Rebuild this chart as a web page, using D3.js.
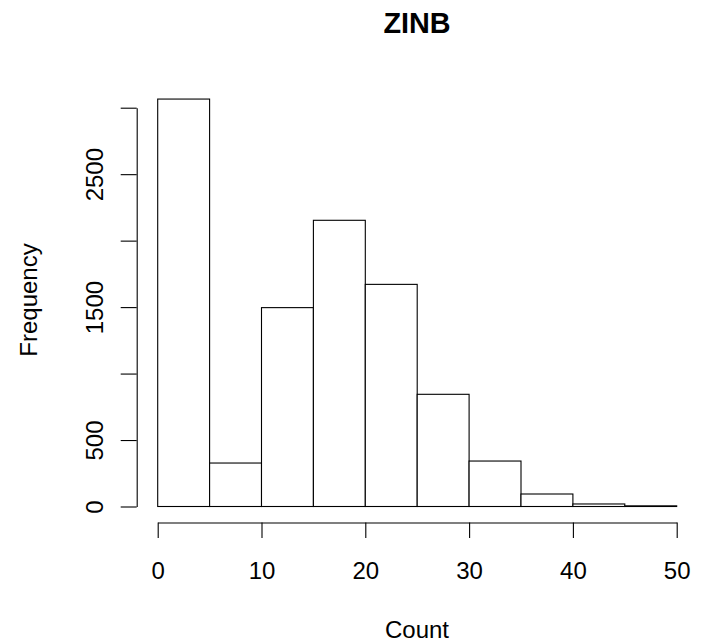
<!DOCTYPE html>
<html>
<head>
<meta charset="utf-8">
<script src="https://cdn.jsdelivr.net/npm/d3@7"></script>
<style>
  html, body { margin: 0; padding: 0; background: #fff; }
  svg { display: block; font-family: "Liberation Sans", Arial, Helvetica, sans-serif; }
</style>
</head>
<body>
<svg id="chart" width="702" height="643"></svg>
<script>
// Histogram bins (left edge, right edge) and their frequencies
const binStarts = [0, 5, 10, 15, 20, 25, 30, 35, 40, 45];
const binEnds   = [5, 10, 15, 20, 25, 30, 35, 40, 45, 50];
const frequencies = [3065, 327, 1496, 2153, 1671, 844, 342, 94, 19, 5];

// Axis ticks and the labels that are printed
const xTicks = [0, 10, 20, 30, 40, 50];
const yTicks = [0, 500, 1000, 1500, 2000, 2500, 3000];
const yLabelled = [0, 500, 1500, 2500];

const titleText = "ZINB";
const xLabel = "Count";
const yLabel = "Frequency";

const svg = d3.select("#chart");

const x = d3.scaleLinear().domain([0, 50]).range([157.7, 676.7]);
const y = d3.scaleLinear().domain([0, 3000]).range([506.5, 107.7]);

const bins = binStarts.map((s, i) => ({ x0: s, x1: binEnds[i], n: frequencies[i] }));

// Bars
svg.append("g")
  .selectAll("rect")
  .data(bins)
  .join("rect")
  .attr("x", d => x(d.x0))
  .attr("width", d => x(d.x1) - x(d.x0))
  .attr("y", d => y(d.n))
  .attr("height", d => y(0) - y(d.n))
  .attr("fill", "#fff")
  .attr("stroke", "#000")
  .attr("stroke-width", 1.1);

// X axis, offset below the bars
const xAxis = svg.append("g")
  .attr("transform", "translate(0,522.5)")
  .call(d3.axisBottom(x).tickValues(xTicks).tickSize(15.5).tickSizeOuter(0).tickFormat(d3.format("d")));
xAxis.selectAll("path, line").attr("stroke", "#000").attr("stroke-width", 1.1);
xAxis.selectAll("text")
  .attr("y", 56.5).attr("dy", null)
  .attr("font-size", 24).attr("fill", "#000")
  .style("font-family", "'Liberation Sans', Arial, sans-serif");

// Y axis, offset left of the bars, with rotated labels
const yAxis = svg.append("g")
  .attr("transform", "translate(136.7,0)")
  .call(d3.axisLeft(y).tickValues(yTicks).tickSize(16).tickSizeOuter(0)
    .tickFormat(d => yLabelled.includes(d) ? String(d) : ""));
yAxis.selectAll("path, line").attr("stroke", "#000").attr("stroke-width", 1.1);
yAxis.selectAll("text")
  .attr("x", null).attr("dy", null)
  .attr("text-anchor", "middle")
  .attr("transform", "translate(-33.7,0) rotate(-90)")
  .attr("font-size", 24).attr("fill", "#000")
  .style("font-family", "'Liberation Sans', Arial, sans-serif");

// Title and axis titles
svg.append("text")
  .attr("x", 417).attr("y", 32.7)
  .attr("text-anchor", "middle")
  .attr("font-size", 28.8).attr("font-weight", "bold")
  .text(titleText);

svg.append("text")
  .attr("x", 417).attr("y", 638)
  .attr("text-anchor", "middle")
  .attr("font-size", 24)
  .text(xLabel);

svg.append("text")
  .attr("transform", "translate(37,300) rotate(-90)")
  .attr("text-anchor", "middle")
  .attr("font-size", 24)
  .text(yLabel);
</script>
</body>
</html>
